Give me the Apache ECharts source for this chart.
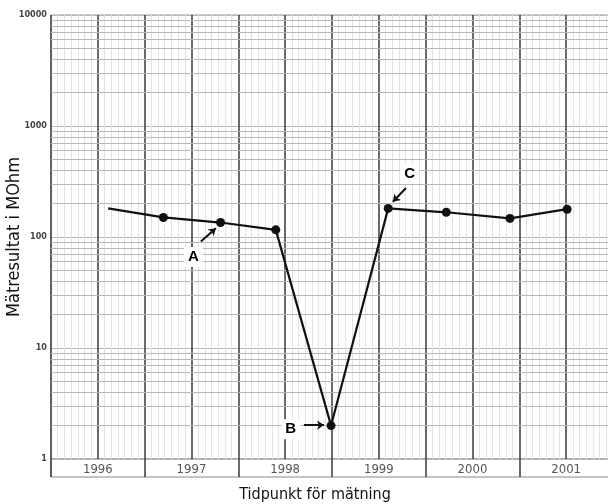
<!DOCTYPE html>
<html>
<head>
<meta charset="utf-8">
<script src="https://cdn.jsdelivr.net/npm/echarts@6/dist/echarts.min.js"></script>
<style>html,body{margin:0;padding:0;background:#fff}#c{width:608px;height:504px}</style>
</head>
<body>
<div id="c"></div>
<script>
// ---- data ----
const years = [1996, 1997, 1998, 1999, 2000, 2001];
const yTickLabels = ['1', '10', '100', '1000', '10000'];
const measX = [1996.11, 1996.70, 1997.31, 1997.90, 1998.49, 1999.10, 1999.72, 2000.40, 2001.01];
const measY = [181, 150, 135, 116, 2.0, 181, 167, 147, 178];
const noteLabels = ['A', 'B', 'C'];
const noteLabelX = [1997.02, 1998.06, 1999.33];
const noteLabelY = [66, 1.86, 370];
const arrowFromX = [1997.10, 1998.20, 1999.29];
const arrowFromY = [91, 2.02, 276];
const arrowToX = [1997.26, 1998.415, 1999.15];
const arrowToY = [120, 2.02, 208];
const decades = [1, 10, 100, 1000];
const logMults = [2, 3, 4, 5, 6, 7, 8, 9];

const FONT = "'Liberation Sans Narrow', 'DejaVu Sans Condensed', 'Liberation Sans', sans-serif";

const minorLines = [];
decades.forEach(d => logMults.forEach(m => minorLines.push({ yAxis: d * m })));

const lineData = measX.map((x, i) => ({
  value: [x, measY[i]],
  symbol: i === 0 ? 'none' : 'circle'
}));

const chart = echarts.init(document.getElementById('c'), null, { renderer: 'canvas' });
chart.setOption({
  animation: false,
  backgroundColor: '#fff',
  title: {
    text: 'Tidpunkt för mätning',
    left: 310, top: 482, textAlign: 'center',
    textStyle: { fontFamily: FONT, fontSize: 16, fontWeight: 'normal', color: '#111' }
  },
  grid: [
    { left: 51, top: 15, right: -5, bottom: 45, show: true, borderColor: '#999', borderWidth: 1,
      containLabel: false, outerBoundsMode: 'none' },
    { left: 51, top: 459, right: -5, height: 18, show: true, borderColor: '#888', borderWidth: 1,
      containLabel: false, outerBoundsMode: 'none' }
  ],
  xAxis: [
    {
      type: 'value', gridIndex: 0, min: 1995.5, max: 2001.5, interval: 0.5,
      axisLine: { show: false }, axisTick: { show: false },
      axisLabel: {
        margin: 4, fontFamily: FONT, fontSize: 13, color: '#555',
        formatter: v => (years.indexOf(Math.round(v * 10) / 10) >= 0 ? String(Math.round(v)) : '')
      },
      splitLine: { show: true, lineStyle: { color: '#3a3a3a', width: 1.5 } },
      minorTick: { show: false, splitNumber: 7 },
      minorSplitLine: { show: true, lineStyle: { color: '#e2e2e2', width: 1 } }
    },
    {
      type: 'value', gridIndex: 1, min: 1995.5, max: 2001.5, interval: 1,
      axisLine: { show: false }, axisTick: { show: false }, axisLabel: { show: false },
      splitLine: { show: true, lineStyle: { color: '#3a3a3a', width: 1.5 } }
    }
  ],
  yAxis: [
    {
      type: 'log', logBase: 10, gridIndex: 0, min: 1, max: 10000,
      name: 'Mätresultat i MOhm', nameLocation: 'middle', nameGap: 28, nameMoveOverlap: false,
      nameTextStyle: { fontFamily: FONT, fontSize: 18, color: '#111' },
      axisLine: { show: false }, axisTick: { show: false },
      axisLabel: {
        margin: 4, fontFamily: FONT, fontSize: 9, fontWeight: 'bold', color: '#444',
        formatter: v => (yTickLabels.indexOf(String(Math.round(v))) >= 0 ? String(Math.round(v)) : '')
      },
      splitLine: { show: true, lineStyle: { color: '#b8b8b8', width: 1 } }
    },
    {
      type: 'value', gridIndex: 1, min: 0, max: 1, show: false
    }
  ],
  series: [
    {
      type: 'line', xAxisIndex: 0, yAxisIndex: 0, data: [], z: 1, silent: true,
      markLine: {
        silent: true, symbol: ['none', 'none'], label: { show: false },
        lineStyle: { color: '#b8b8b8', width: 1, type: 'solid' },
        emphasis: { disabled: true },
        data: minorLines
      }
    },
    {
      type: 'line', xAxisIndex: 0, yAxisIndex: 0, z: 5,
      data: lineData,
      symbolSize: 9,
      lineStyle: { color: '#111', width: 2.2 },
      itemStyle: { color: '#111' }
    },
    {
      type: 'scatter', xAxisIndex: 0, yAxisIndex: 0, z: 6,
      symbol: 'rect', symbolSize: 1, itemStyle: { color: '#fff', opacity: 1 },
      data: noteLabels.map((t, i) => ({ value: [noteLabelX[i], noteLabelY[i]], name: t })),
      label: {
        show: true, position: 'inside', formatter: '{b}',
        fontFamily: "'Liberation Sans', sans-serif", fontSize: 15, fontWeight: 'bold', color: '#000',
        opacity: 1, backgroundColor: '#fff', padding: [3, 4, 2, 4]
      },
      markLine: {
        silent: true, symbol: ['none', 'arrow'], symbolSize: 7, label: { show: false },
        lineStyle: { color: '#111', width: 2, type: 'solid', opacity: 1 },
        data: noteLabels.map((t, i) => [
          { coord: [arrowFromX[i], arrowFromY[i]] },
          { coord: [arrowToX[i], arrowToY[i]] }
        ])
      }
    }
  ]
});
</script>
</body>
</html>
